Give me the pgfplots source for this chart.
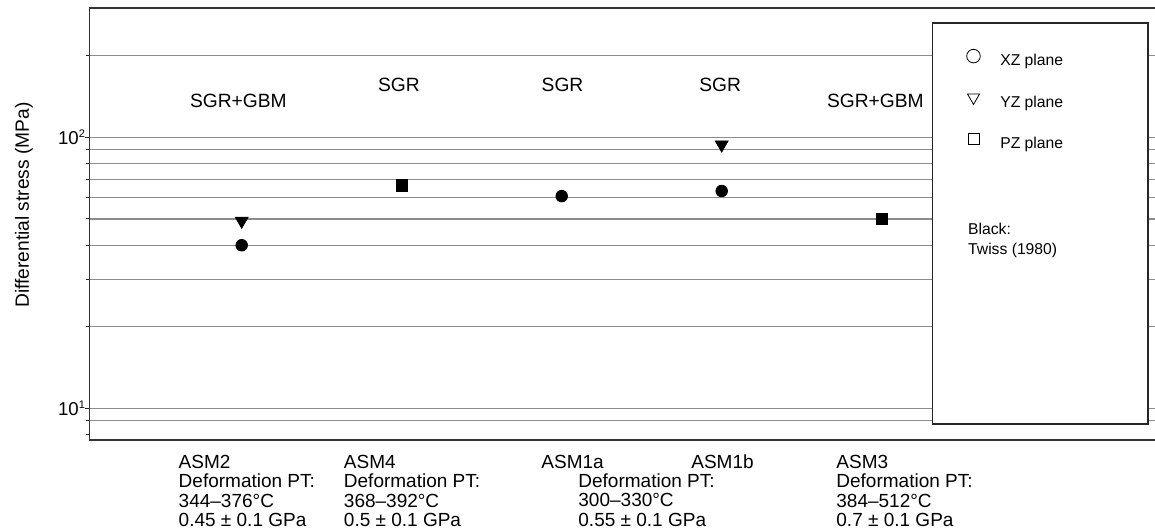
\documentclass[border=0pt]{standalone}
\usepackage{pgfplots}
\pgfplotsset{compat=1.18}
\usepackage{fontspec}
\setmainfont{Liberation Sans}

\newcommand{\mainfont}{\fontsize{9.5}{9.65}\selectfont}
\newcommand{\legfont}{\fontsize{7.85}{10}\selectfont}
\newcommand{\supnum}[1]{\raisebox{3.3pt}{\fontsize{5.5}{6}\selectfont #1}}

\begin{document}
\begin{tikzpicture}
\begin{axis}[
    name=ax,
    scale only axis,
    width=534.36pt, height=216pt,
    ymode=log,
    xmin=0.0475, xmax=6.727,
    ymin=7.65, ymax=300,
    clip=false,
    xtick=\empty,
    ytick={10,100},
    yticklabels={10\supnum{1}, 10\supnum{2}},
    minor ytick={9,20,30,40,50,60,70,80,90,200},
    extra y ticks={8},
    extra y tick labels={},
    extra y tick style={grid=none, major tick length=1.5pt},
    ytick pos=left,
    tick align=outside,
    major tick length=2pt,
    minor tick length=1.5pt,
    tick style={black!85, line width=0.5pt},
    ymajorgrids, yminorgrids,
    major grid style={black!45, line width=0.55pt},
    minor grid style={black!45, line width=0.55pt},
    axis line style={black!80, line width=0.6pt},
    yticklabel style={font=\fontsize{9.3}{10}\selectfont, inner xsep=0pt},
    ylabel={Differential stress (MPa)},
    ylabel style={font=\fontsize{9.6}{11}\selectfont, at={(axis description cs:-0.0524,0.544)}, anchor=south, inner sep=0pt},
    legend style={at={(axis description cs:0.815,0.9146)}, anchor=north west,
        draw=none, fill=none, font=\legfont, row sep=9.5pt,
        /tikz/every odd column/.append style={column sep=8pt}},
    legend cell align=left,
    legend image code/.code={\draw[#1] plot coordinates {(0pt,2.8pt)};},
]

% XZ plane
\addplot[only marks, mark=*, mark size=2.9pt, black, forget plot] coordinates {
    (1,40) (3,60.7) (4,63.4)
};
% YZ plane
\addplot[only marks, mark=triangle*, mark options={rotate=180}, mark size=3.7pt, black, forget plot] coordinates {
    (1,49.2) (4,94)
};
% PZ plane
\addplot[only marks, mark=square*, mark size=2.85pt, black, forget plot] coordinates {
    (2,66.5) (5,50)
};

% legend frame
\draw[fill=white, draw=black!85, line width=0.6pt]
    (axis description cs:0.789,0.037) rectangle (axis description cs:0.9907,0.9653);

\addlegendimage{only marks, mark=o, mark size=3.4pt, black}
\addlegendentry{XZ plane}
\addlegendimage{only marks, mark=triangle, mark options={rotate=180}, mark size=3.5pt, black}
\addlegendentry{YZ plane}
\addlegendimage{only marks, mark=square, mark size=2.8pt, black}
\addlegendentry{PZ plane}

\node[anchor=north west, inner sep=0pt, font=\legfont, align=left]
    at (axis description cs:0.822,0.502) {Black:\\Twiss (1980)};

% mechanisms
\node[anchor=base, font=\fontsize{9.6}{11}\selectfont] at (axis cs:0.979,129.4) {SGR+GBM};
\node[anchor=base, font=\fontsize{9.6}{11}\selectfont] at (axis cs:1.983,147.2) {SGR};
\node[anchor=base, font=\fontsize{9.6}{11}\selectfont] at (axis cs:3.005,147.2) {SGR};
\node[anchor=base, font=\fontsize{9.6}{11}\selectfont] at (axis cs:3.99,147.2) {SGR};
\node[anchor=base, font=\fontsize{9.6}{11}\selectfont] at (axis cs:4.96,129.4) {SGR+GBM};

% samples
\node[anchor=base west, inner sep=0pt, font=\mainfont] at ([yshift=-14.15pt]axis description cs:0.0833,0)
    {\begin{tabular}[t]{@{}l@{}}ASM2\\Deformation PT:\\344–376°C\\0.45 ± 0.1 GPa\end{tabular}};
\node[anchor=base west, inner sep=0pt, font=\mainfont] at ([yshift=-14.15pt]axis description cs:0.2379,0)
    {\begin{tabular}[t]{@{}l@{}}ASM4\\Deformation PT:\\368–392°C\\0.5 ± 0.1 GPa\end{tabular}};
\node[anchor=base west, inner sep=0pt, font=\mainfont] at ([yshift=-14.15pt]axis description cs:0.4227,0) {ASM1a};
\node[anchor=base west, inner sep=0pt, font=\mainfont] at ([yshift=-14.15pt]axis description cs:0.5630,0) {ASM1b};
\node[anchor=base west, inner sep=0pt, font=\mainfont] at ([yshift=-23.8pt]axis description cs:0.4573,0)
    {\begin{tabular}[t]{@{}l@{}}Deformation PT:\\300–330°C\\0.55 ± 0.1 GPa\end{tabular}};
\node[anchor=base west, inner sep=0pt, font=\mainfont] at ([yshift=-14.15pt]axis description cs:0.6987,0)
    {\begin{tabular}[t]{@{}l@{}}ASM3\\Deformation PT:\\384–512°C\\0.7 ± 0.1 GPa\end{tabular}};

\end{axis}
\pgfresetboundingbox
\path ([xshift=-44.65pt,yshift=-45.5pt]ax.south west) rectangle ([xshift=-1.5pt,yshift=4pt]ax.north east);
\end{tikzpicture}
\end{document}
